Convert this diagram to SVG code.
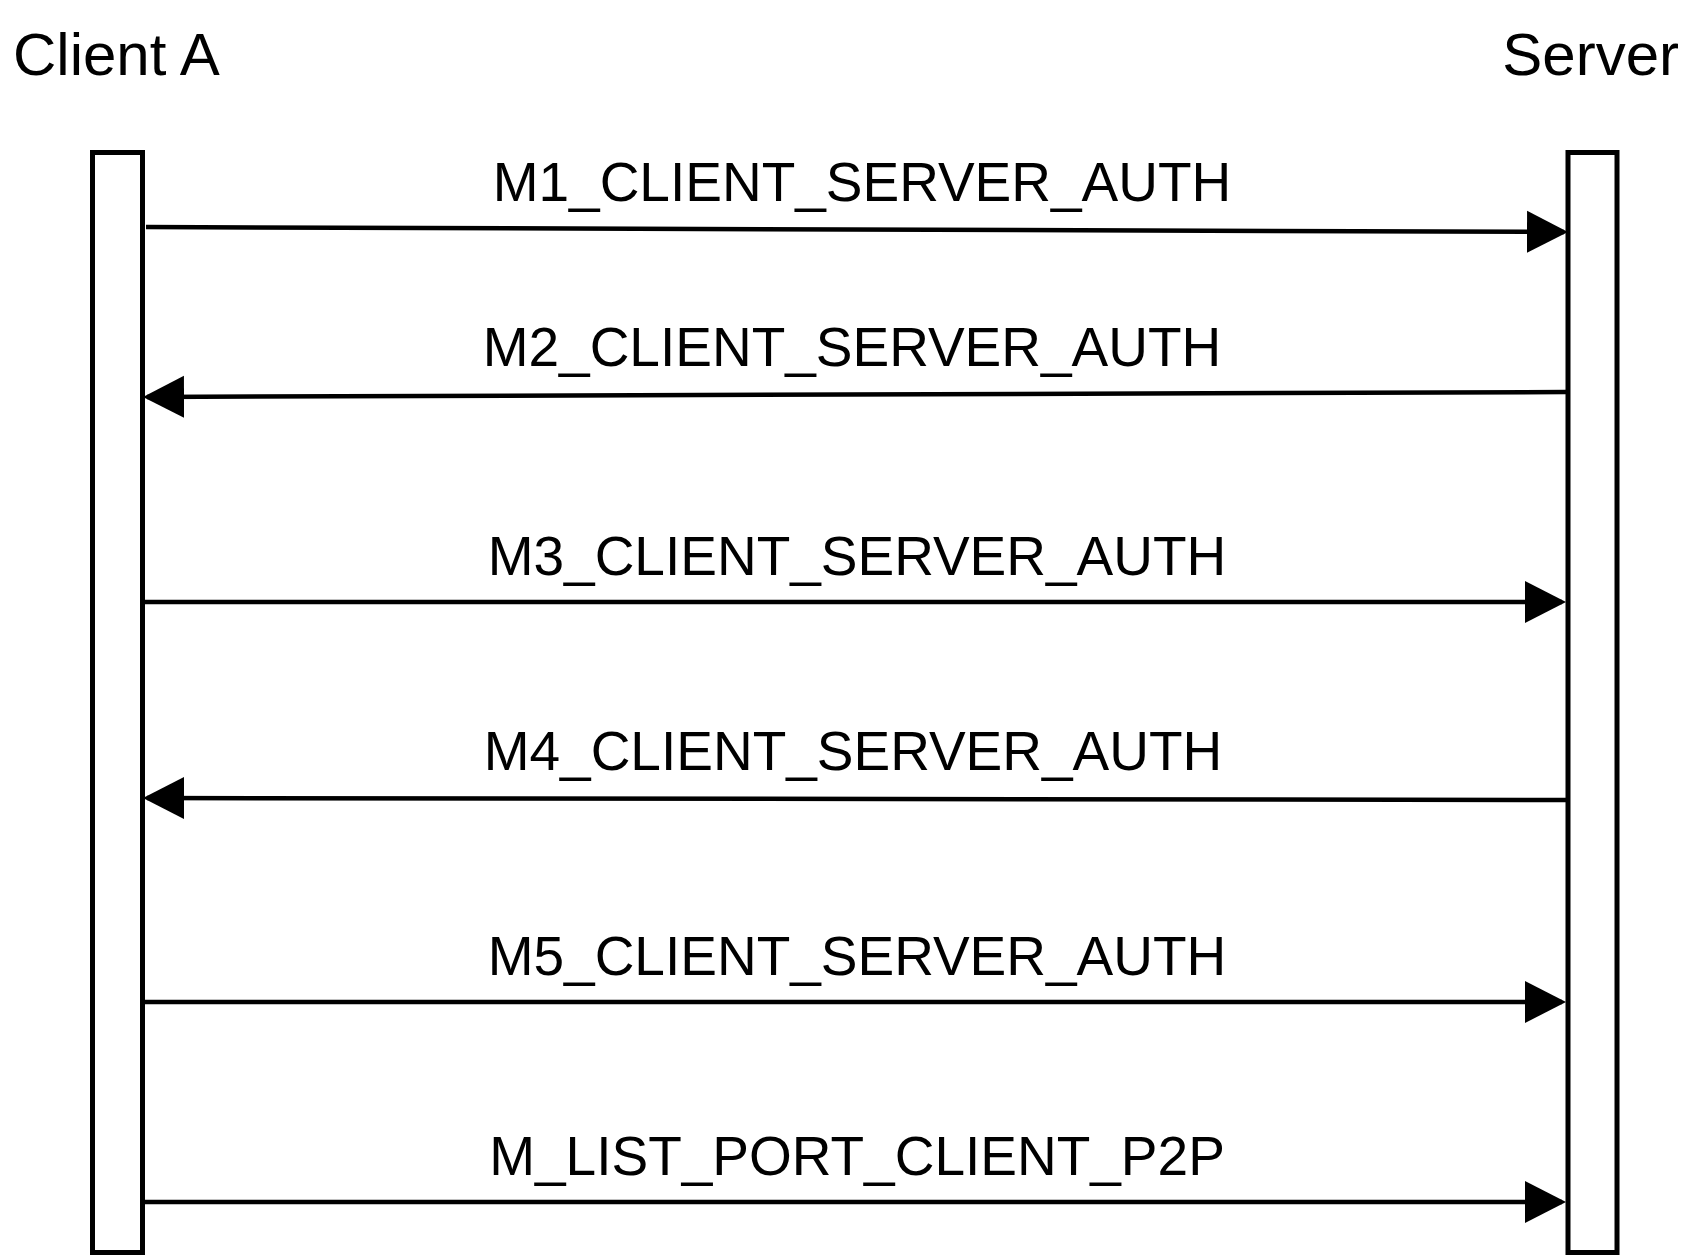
<svg xmlns="http://www.w3.org/2000/svg" width="1695" height="1255" viewBox="0 0 1695 1255">
<style>
.life{fill:#fff;stroke:#000;stroke-width:5}
.title{font-family:"Liberation Sans",Arial,sans-serif;font-size:60px;fill:#000}
.lbl{font-family:"Liberation Sans",Arial,sans-serif;font-size:55px;fill:#000;text-anchor:middle}
.msg{fill:none;stroke:#000;stroke-width:4.5;marker-end:url(#arr)}
</style>
<defs>
<marker id="arr" markerUnits="userSpaceOnUse" markerWidth="42" markerHeight="44" refX="37" refY="21" orient="auto" viewBox="0 0 42 42">
<path d="M0,0 L41,21 L0,42 z" fill="#000"/>
</marker>
</defs>
<rect width="1695" height="1255" fill="#fff"/>
<g id="clientA">
<rect class="life" x="92.5" y="152.5" width="50" height="1100"/>
<text class="title" x="13" y="75">Client A</text>
</g>
<g id="server">
<rect class="life" x="1568" y="152.5" width="49" height="1100"/>
<text class="title" x="1679" y="75" text-anchor="end">Server</text>
</g>
<g id="connectors">
<path class="msg" d="M146,227 L1564,232"/>
<path class="msg" d="M1566,392 L147,397"/>
<path class="msg" d="M145,602 L1562,602"/>
<path class="msg" d="M1566,800 L147,798"/>
<path class="msg" d="M145,1002 L1562,1002"/>
<path class="msg" d="M145,1202 L1562,1202"/>
<text class="lbl" x="862" y="201">M1_CLIENT_SERVER_AUTH</text>
<text class="lbl" x="852" y="366">M2_CLIENT_SERVER_AUTH</text>
<text class="lbl" x="857" y="575">M3_CLIENT_SERVER_AUTH</text>
<text class="lbl" x="853" y="770">M4_CLIENT_SERVER_AUTH</text>
<text class="lbl" x="857" y="975">M5_CLIENT_SERVER_AUTH</text>
<text class="lbl" x="857" y="1175">M_LIST_PORT_CLIENT_P2P</text>
</g>
</svg>
